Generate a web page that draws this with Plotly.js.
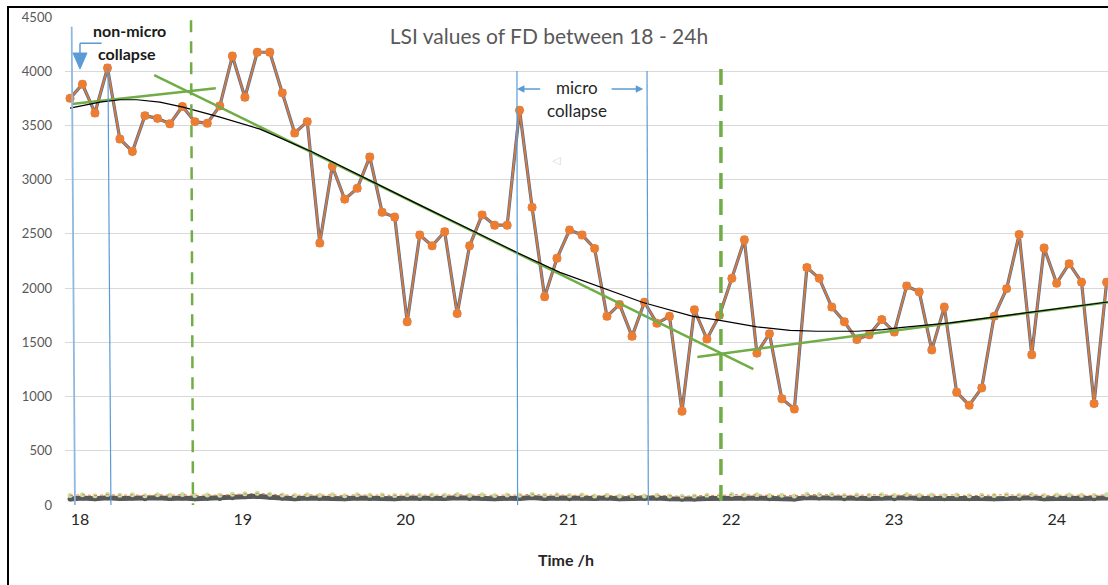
<!DOCTYPE html>
<html>
<head>
<meta charset="utf-8">
<script src="https://cdn.plot.ly/plotly-3.0.1.min.js"></script>
<style>
  html, body { margin: 0; padding: 0; background: #fff; overflow: hidden; }
  #chart { width: 1108px; height: 585px; }
  #frame { position: absolute; left: 7px; top: 6px; width: 1300px; height: 800px;
           border: 2px solid #000; pointer-events: none; }
</style>
</head>
<body>
<div id="chart"></div>
<div id="frame"></div>
<script>
// ---- data ----
const times = [17.939,18.015,18.092,18.169,18.245,18.322,18.399,18.476,18.552,18.629,
  18.706,18.782,18.859,18.936,19.013,19.089,19.166,19.243,19.319,19.396,
  19.473,19.550,19.626,19.703,19.780,19.856,19.933,20.010,20.087,20.163,
  20.240,20.317,20.393,20.470,20.547,20.624,20.700,20.777,20.854,20.930,
  21.007,21.084,21.161,21.237,21.314,21.391,21.467,21.544,21.621,21.698,
  21.774,21.851,21.928,22.004,22.081,22.158,22.235,22.311,22.388,22.465,
  22.541,22.618,22.695,22.772,22.848,22.925,23.002,23.078,23.155,23.232,
  23.309,23.385,23.462,23.539,23.615,23.692,23.769,23.846,23.922,23.999,
  24.076,24.152,24.229,24.306];
const lsiValues = [3750,3880,3615,4030,3375,3260,3590,3565,3515,3675,
  3535,3520,3680,4140,3760,4175,4175,3800,3430,3535,
  2415,3125,2820,2920,3210,2700,2655,1690,2490,2390,
  2520,1765,2390,2675,2580,2580,3640,2745,1920,2275,
  2535,2490,2365,1740,1850,1555,1870,1675,1740,865,
  1800,1530,1750,2090,2445,1400,1580,980,885,2190,
  2090,1825,1690,1525,1570,1710,1595,2020,1965,1430,
  1825,1040,920,1080,1740,1995,2495,1385,2370,2045,
  2225,2055,935,2055];
// small series lying along the baseline
const baseDark = [55,65,58,66,60,64,57,66,60,65,58,63,60,68,75,80,72,62,58,64,
  60,63,57,65,60,62,58,64,60,63,59,66,60,64,58,63,60,70,60,64,
  58,63,60,65,58,62,60,64,57,52,55,60,58,66,62,64,58,60,55,68,
  64,66,58,62,60,64,58,66,60,62,58,63,57,60,58,64,60,66,58,63,
  62,60,58,65];
const baseLight = [88,95,86,96,90,94,86,95,90,96,87,93,90,98,104,108,100,92,88,95,
  90,94,86,95,90,92,88,94,90,93,89,96,90,94,88,93,90,100,90,94,
  88,92,84,90,82,88,84,90,82,80,84,90,86,96,92,94,88,90,84,98,
  94,96,88,92,90,95,88,96,90,92,88,93,86,90,88,95,90,96,88,93,
  92,90,88,95];
// polynomial trend (black)
const trendTimes = [17.939,18.123,18.246,18.350,18.491,18.633,18.860,19.106,19.431,19.781,
  20.088,20.396,20.703,20.948,21.237,21.458,21.765,21.931,22.158,22.361,
  22.527,22.773,22.932,23.037,23.344,23.651,23.958,24.314];
const trendValues = [3660,3715,3737,3737,3715,3669,3577,3466,3253,2990,
  2765,2540,2315,2145,1987,1867,1740,1703,1642,1611,
  1602,1602,1617,1636,1680,1740,1800,1872];
// linear segment fits (green)
const fitATimes = [17.949, 18.834], fitAValues = [3697, 3842];
const fitBTimes = [18.456, 22.136], fitBValues = [3965, 1254];
const fitCTimes = [21.792, 24.314], fitCValues = [1365, 1870];
// collapse boundary lines
const collapseTop = [[17.949, 4410, 17.969], [18.172, 4030, 18.190], [20.684, 4002, 20.688], [21.483, 4002, 21.491]];
const phaseLines = [[18.682, 4470], [21.937, 4020]];
const xTickVals = [18, 19, 20, 21, 22, 23, 24];
const xTickText = ['18', '19', '20', '21', '22', '23', '24'];
const yTickVals = [0, 500, 1000, 1500, 2000, 2500, 3000, 3500, 4000, 4500];

const FONT = 'Lato, "Liberation Sans", sans-serif';
const BLUE = '#5B9BD5', GREEN = '#70AD47';

const traces = [
  { x: times, y: baseDark, mode: 'lines+markers', line: {color: '#595959', width: 5},
    marker: {color: '#595959', size: 5}, hoverinfo: 'skip', cliponaxis: false },
  { x: times, y: baseLight, mode: 'markers', marker: {color: '#C5DFA8', size: 5},
    hoverinfo: 'skip', cliponaxis: false },
  { x: times, y: baseLight, mode: 'lines', line: {color: '#ED7D31', width: 1, dash: 'dot'},
    hoverinfo: 'skip' },
  { x: times, y: lsiValues, mode: 'lines+markers', line: {color: '#4A6FA5', width: 3.2},
    marker: {symbol: 'square', color: '#4472C4', size: 7} },
  { x: times, y: lsiValues, mode: 'lines+markers', line: {color: '#DB7A33', width: 1.8},
    marker: {symbol: 'circle', color: '#ED7D31', size: 9} },
  { x: fitATimes, y: fitAValues, mode: 'lines', line: {color: GREEN, width: 2.5} },
  { x: fitBTimes, y: fitBValues, mode: 'lines', line: {color: GREEN, width: 2.5} },
  { x: fitCTimes, y: fitCValues, mode: 'lines', line: {color: GREEN, width: 2.5} },
  { x: trendTimes, y: trendValues, mode: 'lines', line: {color: '#000', width: 1.2} }
];

const shapes = [];
collapseTop.forEach((c, i) => {
  shapes.push({ type: 'line', xref: 'x', yref: 'y', x0: c[0], y0: c[1], x1: c[2], y1: 0,
    line: {color: i === 0 ? '#8FB8E0' : BLUE, width: i === 0 ? 1.8 : 1.2}, layer: 'above' });
});
shapes.push({ type: 'line', xref: 'x', yref: 'y', x0: phaseLines[0][0], y0: phaseLines[0][1],
  x1: phaseLines[0][0] + 0.012, y1: 0, line: {color: GREEN, width: 2.5, dash: '12px,9px'}, layer: 'above' });
shapes.push({ type: 'line', xref: 'x', yref: 'y', x0: phaseLines[1][0], y0: phaseLines[1][1],
  x1: phaseLines[1][0], y1: 0, line: {color: GREEN, width: 3.5, dash: '16px,10px'}, layer: 'above' });
// elbow arrow for "non-micro collapse"
shapes.push({ type: 'line', xref: 'x', yref: 'y', x0: 18.133, y0: 4258, x1: 18.0, y1: 4258,
  line: {color: BLUE, width: 1.5} });
shapes.push({ type: 'line', xref: 'x', yref: 'y', x0: 18.0, y0: 4258, x1: 18.0, y1: 4160,
  line: {color: BLUE, width: 1.5} });
shapes.push({ type: 'path', xref: 'x', yref: 'y',
  path: 'M 17.957 4168 L 18.043 4168 L 18.0 4020 Z', fillcolor: BLUE, line: {color: BLUE, width: 1} });

const annotations = [
  { x: 18.307, y: 4374, xref: 'x', yref: 'y', text: '<b>non-micro</b>', showarrow: false,
    font: {family: FONT, size: 16, color: '#1a1a1a'} },
  { x: 18.287, y: 4159, xref: 'x', yref: 'y', text: '<b>collapse</b>', showarrow: false,
    font: {family: FONT, size: 16, color: '#1a1a1a'} },
  { x: 21.051, y: 3851, xref: 'x', yref: 'y', text: 'micro', showarrow: false,
    font: {family: FONT, size: 17, color: '#262626'} },
  { x: 21.053, y: 3635, xref: 'x', yref: 'y', text: 'collapse', showarrow: false,
    font: {family: FONT, size: 17, color: '#262626'} },
  { x: 20.928, y: 3173, xref: 'x', yref: 'y', text: '◁', showarrow: false,
    font: {family: '"DejaVu Sans"', size: 11, color: '#C9DAF0'} },
  { x: 20.684, y: 3835, xref: 'x', yref: 'y', ax: 20.836, ay: 3835, axref: 'x', ayref: 'y',
    text: '', showarrow: true, arrowhead: 2, arrowsize: 1, arrowwidth: 1.5, arrowcolor: BLUE, standoff: 0, startstandoff: 0 },
  { x: 21.460, y: 3835, xref: 'x', yref: 'y', ax: 21.256, ay: 3835, axref: 'x', ayref: 'y',
    text: '', showarrow: true, arrowhead: 2, arrowsize: 1, arrowwidth: 1.5, arrowcolor: BLUE, standoff: 0, startstandoff: 0 },
  { x: 20.985, y: -0.1107, xref: 'x', yref: 'paper', text: '<b>Time /h</b>', showarrow: false,
    yanchor: 'middle', font: {family: FONT, size: 16, color: '#262626'} }
];

const layout = {
  width: 1108, height: 585,
  margin: {l: 65, r: 0, t: 17, b: 80},
  paper_bgcolor: '#fff', plot_bgcolor: '#fff',
  showlegend: false,
  font: {family: FONT},
  title: { text: 'LSI values of FD between 18 - 24h', xref: 'container', yref: 'container',
    x: 0.4955, y: 0.9368, xanchor: 'center', yanchor: 'middle',
    font: {family: FONT, size: 21, color: '#595959'} },
  xaxis: { range: [17.908, 24.3145], tickmode: 'array', tickvals: xTickVals, ticktext: xTickText,
    showgrid: false, zeroline: false, showline: false, ticks: '',
    tickfont: {family: FONT, size: 16, color: '#262626'}, ticklabelstandoff: 3 },
  yaxis: { range: [0, 4500], tickmode: 'array', tickvals: yTickVals,
    showgrid: true, gridcolor: '#D9D9D9', gridwidth: 1, zeroline: false, showline: false, ticks: '',
    tickfont: {family: FONT, size: 13, color: '#595959'}, ticklabelstandoff: 12 },
  shapes: shapes,
  annotations: annotations
};

Plotly.newPlot('chart', traces, layout, {staticPlot: true, displayModeBar: false});
</script>
</body>
</html>
